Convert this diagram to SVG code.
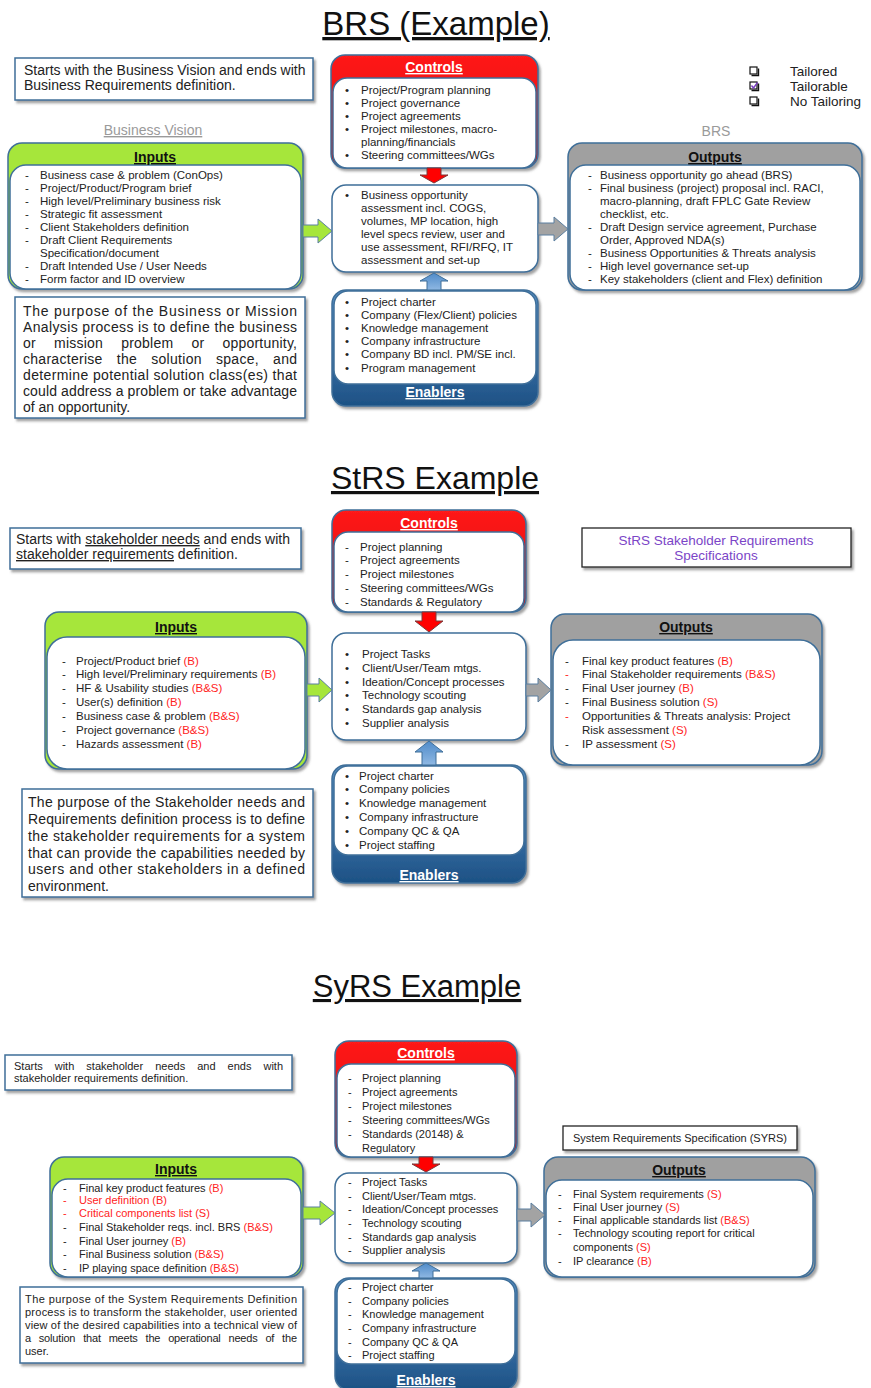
<svg xmlns="http://www.w3.org/2000/svg" width="871" height="1388" viewBox="0 0 871 1388">
<defs>
<filter id="sh" x="-10%" y="-10%" width="125%" height="130%">
<feDropShadow dx="2" dy="2.5" stdDeviation="1.3" flood-color="#555" flood-opacity="0.55"/>
</filter>
<linearGradient id="gRed" x1="0" y1="0" x2="0" y2="1"><stop offset="0" stop-color="#ff1a1a"/><stop offset="1" stop-color="#d80000"/></linearGradient>
<linearGradient id="gBlue" x1="0" y1="0" x2="0" y2="1"><stop offset="0" stop-color="#5b96d2"/><stop offset="1" stop-color="#1d5184"/></linearGradient>
<linearGradient id="gArrB" x1="0" y1="0" x2="0" y2="1"><stop offset="0" stop-color="#4f8bc9"/><stop offset="1" stop-color="#8fb8e3"/></linearGradient>
</defs>
<style>
text{font-family:"Liberation Sans",Arial,sans-serif;fill:#222}
.ttl{text-anchor:middle;text-decoration:underline;fill:#111}
.nt{font-size:14px}
.it{font-size:11.5px}
.s11{font-size:11px}
.hd{font-size:14px;font-weight:bold;text-anchor:middle;text-decoration:underline;fill:#111}
.hw{fill:#fff}
.r{fill:#ff2323}
.lbl{font-size:14px;fill:#9a9a9a;text-anchor:middle}
.box{fill:#fff;stroke:#3f6f99;stroke-width:1.5}
.nb{fill:#fff;stroke:#3f6f99;stroke-width:1.5;filter:url(#sh)}
.sb{fill:#fff;stroke:#222;stroke-width:1.3;filter:url(#sh)}
.grn{fill:#a6e63a;stroke:#3f6f99;stroke-width:1.5;filter:url(#sh)}
.gry{fill:#a0a0a0;stroke:#3f6f99;stroke-width:1.5;filter:url(#sh)}
.red{fill:url(#gRed);stroke:#3f6f99;stroke-width:1.5;filter:url(#sh)}
.blu{fill:url(#gBlue);stroke:#3f6f99;stroke-width:1.5;filter:url(#sh)}
.aG{fill:#a6e63a;stroke:#5b7fa0;stroke-width:1}
.aY{fill:#a3a3a3;stroke:#5b7fa0;stroke-width:1}
.aR{fill:#f00;stroke:#7a3a3a;stroke-width:1}
.aB{fill:url(#gArrB);stroke:#3f6f99;stroke-width:1}
.pt{fill:#7b45c7;font-size:13.5px;text-anchor:middle}
</style>

<!-- ===== BRS ===== -->
<text class="ttl" x="436" y="35" font-size="33">BRS (Example)</text>

<g id="legend">
<rect x="750" y="67" width="7" height="7" fill="#fff" stroke="#111" stroke-width="1.2"/>
<path d="M758.5,68.5 V75.5 H751.5" fill="none" stroke="#111" stroke-width="1.4"/>
<rect x="750" y="82" width="7" height="7" fill="#fff" stroke="#111" stroke-width="1.2"/>
<path d="M758.5,83.5 V90.5 H751.5" fill="none" stroke="#111" stroke-width="1.4"/>
<path d="M751.5,85.5 L753.5,88 L757.5,82.5" fill="none" stroke="#7a3fc0" stroke-width="1.4"/>
<rect x="750" y="97" width="7" height="7" fill="#fff" stroke="#111" stroke-width="1.2"/>
<path d="M758.5,98.5 V105.5 H751.5" fill="none" stroke="#111" stroke-width="1.4"/>
<text x="790" y="76" font-size="13.5">Tailored</text>
<text x="790" y="91" font-size="13.5">Tailorable</text>
<text x="790" y="106" font-size="13.5">No Tailoring</text>
</g>

<g id="brs-note">
<rect class="nb" x="15" y="58" width="298" height="42"/>
<text class="nt" x="24" y="75">Starts with the Business Vision and ends with</text>
<text class="nt" x="24" y="90">Business Requirements definition.</text>
</g>

<g id="brs-vision-label">
<text class="lbl" x="153" y="135" text-decoration="underline">Business Vision</text>
</g>
<g id="brs-label">
<text class="lbl" x="716" y="136">BRS</text>
</g>

<g id="brs-inputs">
<rect class="grn" x="8" y="143" width="295" height="146" rx="14"/>
<rect class="box" x="10" y="165" width="291" height="124" rx="16"/>
<text class="hd" x="155" y="162">Inputs</text>
<text class="it"><tspan x="25" y="179">-</tspan><tspan x="25" y="192">-</tspan><tspan x="25" y="205">-</tspan><tspan x="25" y="218">-</tspan><tspan x="25" y="231">-</tspan><tspan x="25" y="244">-</tspan><tspan x="25" y="270">-</tspan><tspan x="25" y="283">-</tspan></text>
<text class="it"><tspan x="40" y="179">Business case &amp; problem (ConOps)</tspan><tspan x="40" y="192">Project/Product/Program brief</tspan><tspan x="40" y="205">High level/Preliminary business risk</tspan><tspan x="40" y="218">Strategic fit assessment</tspan><tspan x="40" y="231">Client Stakeholders definition</tspan><tspan x="40" y="244">Draft Client Requirements</tspan><tspan x="40" y="257">Specification/document</tspan><tspan x="40" y="270">Draft Intended Use / User Needs</tspan><tspan x="40" y="283">Form factor and ID overview</tspan></text>
</g>

<g id="brs-purpose">
<rect class="nb" x="15" y="297" width="290" height="121"/>
<text class="nt" x="23" y="316" textLength="274" lengthAdjust="spacing">The purpose of the Business or Mission</text>
<text class="nt" x="23" y="332" textLength="274" lengthAdjust="spacing">Analysis process is to define the business</text>
<text class="nt" x="23" y="348" textLength="274" lengthAdjust="spacing" word-spacing="14">or mission problem or opportunity,</text>
<text class="nt" x="23" y="364" textLength="274" lengthAdjust="spacing" word-spacing="10">characterise the solution space, and</text>
<text class="nt" x="23" y="380" textLength="274" lengthAdjust="spacing">determine potential solution class(es) that</text>
<text class="nt" x="23" y="396" textLength="274" lengthAdjust="spacing">could address a problem or take advantage</text>
<text class="nt" x="23" y="412">of an opportunity.</text>
</g>

<g id="brs-controls">
<rect class="red" x="331" y="55" width="207" height="113" rx="14"/>
<rect class="box" x="333" y="78" width="203" height="90" rx="14"/>
<text class="hd hw" x="434" y="72">Controls</text>
<text class="it"><tspan x="345" y="94">•</tspan><tspan x="345" y="107">•</tspan><tspan x="345" y="120">•</tspan><tspan x="345" y="133">•</tspan><tspan x="345" y="159">•</tspan></text>
<text class="it"><tspan x="361" y="94">Project/Program planning</tspan><tspan x="361" y="107">Project governance</tspan><tspan x="361" y="120">Project agreements</tspan><tspan x="361" y="133">Project milestones, macro-</tspan><tspan x="361" y="146">planning/financials</tspan><tspan x="361" y="159">Steering committees/WGs</tspan></text>
</g>

<g id="brs-process">
<rect class="nb" x="332" y="185" width="206" height="87" rx="14"/>
<text class="it" x="345" y="199">•</text>
<text class="it"><tspan x="361" y="199">Business opportunity</tspan><tspan x="361" y="212">assessment incl. COGS,</tspan><tspan x="361" y="225">volumes, MP location, high</tspan><tspan x="361" y="238">level specs review, user and</tspan><tspan x="361" y="251">use assessment, RFI/RFQ, IT</tspan><tspan x="361" y="264">assessment and set-up</tspan></text>
</g>

<g id="brs-enablers">
<rect class="blu" x="332" y="290" width="206" height="116" rx="14"/>
<rect class="box" x="334" y="291" width="202" height="93" rx="14"/>
<text class="hd hw" x="435" y="397">Enablers</text>
<text class="it"><tspan x="345" y="306">•</tspan><tspan x="345" y="319">•</tspan><tspan x="345" y="332">•</tspan><tspan x="345" y="345">•</tspan><tspan x="345" y="358">•</tspan><tspan x="345" y="372">•</tspan></text>
<text class="it"><tspan x="361" y="306">Project charter</tspan><tspan x="361" y="319">Company (Flex/Client) policies</tspan><tspan x="361" y="332">Knowledge management</tspan><tspan x="361" y="345">Company infrastructure</tspan><tspan x="361" y="358">Company BD incl. PM/SE incl.</tspan><tspan x="361" y="372">Program management</tspan></text>
</g>

<g id="brs-outputs">
<rect class="gry" x="568" y="143" width="294" height="147" rx="14"/>
<rect class="box" x="570" y="165" width="290" height="125" rx="16"/>
<text class="hd" x="715" y="162">Outputs</text>
<text class="it"><tspan x="588" y="179">-</tspan><tspan x="588" y="192">-</tspan><tspan x="588" y="231">-</tspan><tspan x="588" y="257">-</tspan><tspan x="588" y="270">-</tspan><tspan x="588" y="283">-</tspan></text>
<text class="it"><tspan x="600" y="179">Business opportunity go ahead (BRS)</tspan><tspan x="600" y="192">Final business (project) proposal incl. RACI,</tspan><tspan x="600" y="205">macro-planning, draft FPLC Gate Review</tspan><tspan x="600" y="218">checklist, etc.</tspan><tspan x="600" y="231">Draft Design service agreement, Purchase</tspan><tspan x="600" y="244">Order, Approved NDA(s)</tspan><tspan x="600" y="257">Business Opportunities &amp; Threats analysis</tspan><tspan x="600" y="270">High level governance set-up</tspan><tspan x="600" y="283">Key stakeholders (client and Flex) definition</tspan></text>
</g>

<!-- ===== StRS ===== -->
<text class="ttl" x="435" y="489" font-size="32">StRS Example</text>

<g id="strs-note">
<rect class="nb" x="10" y="528" width="291" height="41"/>
<text class="nt" x="16" y="544">Starts with <tspan text-decoration="underline">stakeholder needs</tspan> and ends with</text>
<text class="nt" x="16" y="559"><tspan text-decoration="underline">stakeholder requirements</tspan> definition.</text>
</g>

<g id="strs-spec">
<rect class="sb" x="582" y="528" width="269" height="39"/>
<text class="pt" x="716" y="545">StRS Stakeholder Requirements</text>
<text class="pt" x="716" y="560">Specifications</text>
</g>

<g id="strs-inputs">
<rect class="grn" x="45" y="612" width="262" height="157" rx="14"/>
<rect class="box" x="47" y="637" width="258" height="132" rx="20"/>
<text class="hd" x="176" y="632">Inputs</text>
<text class="it"><tspan x="62" y="665">-</tspan><tspan x="62" y="678">-</tspan><tspan x="62" y="692">-</tspan><tspan x="62" y="706">-</tspan><tspan x="62" y="720">-</tspan><tspan x="62" y="734">-</tspan><tspan x="62" y="748">-</tspan></text>
<text class="it" x="76" y="665">Project/Product brief <tspan class="r">(B)</tspan></text>
<text class="it" x="76" y="678">High level/Preliminary requirements <tspan class="r">(B)</tspan></text>
<text class="it" x="76" y="692">HF &amp; Usability studies <tspan class="r">(B&amp;S)</tspan></text>
<text class="it" x="76" y="706">User(s) definition <tspan class="r">(B)</tspan></text>
<text class="it" x="76" y="720">Business case &amp; problem <tspan class="r">(B&amp;S)</tspan></text>
<text class="it" x="76" y="734">Project governance <tspan class="r">(B&amp;S)</tspan></text>
<text class="it" x="76" y="748">Hazards assessment <tspan class="r">(B)</tspan></text>
</g>

<g id="strs-purpose">
<rect class="nb" x="22" y="789" width="291" height="108"/>
<text class="nt" x="28" y="807" textLength="277" lengthAdjust="spacing">The purpose of the Stakeholder needs and</text>
<text class="nt" x="28" y="824" textLength="277" lengthAdjust="spacing">Requirements definition process is to define</text>
<text class="nt" x="28" y="841" textLength="277" lengthAdjust="spacing">the stakeholder requirements for a system</text>
<text class="nt" x="28" y="858" textLength="277" lengthAdjust="spacing">that can provide the capabilities needed by</text>
<text class="nt" x="28" y="874" textLength="277" lengthAdjust="spacing">users and other stakeholders in a defined</text>
<text class="nt" x="28" y="891">environment.</text>
</g>

<g id="strs-controls">
<rect class="red" x="332" y="510" width="194" height="102" rx="14"/>
<rect class="box" x="334" y="532" width="190" height="80" rx="14"/>
<text class="hd hw" x="429" y="528">Controls</text>
<text class="it"><tspan x="345" y="551">-</tspan><tspan x="345" y="564">-</tspan><tspan x="345" y="578">-</tspan><tspan x="345" y="592">-</tspan><tspan x="345" y="606">-</tspan></text>
<text class="it"><tspan x="360" y="551">Project planning</tspan><tspan x="360" y="564">Project agreements</tspan><tspan x="360" y="578">Project milestones</tspan><tspan x="360" y="592">Steering committees/WGs</tspan><tspan x="360" y="606">Standards &amp; Regulatory</tspan></text>
</g>

<g id="strs-process">
<rect class="nb" x="332" y="633" width="194" height="107" rx="14"/>
<text class="it"><tspan x="345" y="658">•</tspan><tspan x="345" y="672">•</tspan><tspan x="345" y="686">•</tspan><tspan x="345" y="699">•</tspan><tspan x="345" y="713">•</tspan><tspan x="345" y="727">•</tspan></text>
<text class="it"><tspan x="362" y="658">Project Tasks</tspan><tspan x="362" y="672">Client/User/Team mtgs.</tspan><tspan x="362" y="686">Ideation/Concept processes</tspan><tspan x="362" y="699">Technology scouting</tspan><tspan x="362" y="713">Standards gap analysis</tspan><tspan x="362" y="727">Supplier analysis</tspan></text>
</g>

<g id="strs-enablers">
<rect class="blu" x="332" y="765" width="194" height="118" rx="14"/>
<rect class="box" x="334" y="766" width="190" height="89" rx="14"/>
<text class="hd hw" x="429" y="880">Enablers</text>
<text class="it"><tspan x="345" y="780">•</tspan><tspan x="345" y="793">•</tspan><tspan x="345" y="807">•</tspan><tspan x="345" y="821">•</tspan><tspan x="345" y="835">•</tspan><tspan x="345" y="849">•</tspan></text>
<text class="it"><tspan x="359" y="780">Project charter</tspan><tspan x="359" y="793">Company policies</tspan><tspan x="359" y="807">Knowledge management</tspan><tspan x="359" y="821">Company infrastructure</tspan><tspan x="359" y="835">Company QC &amp; QA</tspan><tspan x="359" y="849">Project staffing</tspan></text>
</g>

<g id="strs-outputs">
<rect class="gry" x="551" y="614" width="271" height="151" rx="14"/>
<rect class="box" x="553" y="640" width="267" height="125" rx="20"/>
<text class="hd" x="686" y="632">Outputs</text>
<text class="it"><tspan x="565" y="665">-</tspan><tspan x="565" y="678" class="r">-</tspan><tspan x="565" y="692">-</tspan><tspan x="565" y="706">-</tspan><tspan x="565" y="720" class="r">-</tspan><tspan x="565" y="748">-</tspan></text>
<text class="it" x="582" y="665">Final key product features <tspan class="r">(B)</tspan></text>
<text class="it" x="582" y="678">Final Stakeholder requirements <tspan class="r">(B&amp;S)</tspan></text>
<text class="it" x="582" y="692">Final User journey <tspan class="r">(B)</tspan></text>
<text class="it" x="582" y="706">Final Business solution <tspan class="r">(S)</tspan></text>
<text class="it" x="582" y="720">Opportunities &amp; Threats analysis: Project</text>
<text class="it" x="582" y="734">Risk assessment <tspan class="r">(S)</tspan></text>
<text class="it" x="582" y="748">IP assessment <tspan class="r">(S)</tspan></text>
</g>

<!-- ===== SyRS ===== -->
<text class="ttl" x="417" y="997" font-size="31">SyRS Example</text>

<g id="syrs-note">
<rect class="nb" x="5" y="1055" width="287" height="35"/>
<text class="s11" x="14" y="1070" textLength="269" lengthAdjust="spacing" word-spacing="9">Starts with stakeholder needs and ends with</text>
<text class="s11" x="14" y="1082">stakeholder requirements definition.</text>
</g>

<g id="syrs-spec">
<rect class="sb" x="563" y="1126" width="234" height="24"/>
<text class="s11" x="680" y="1142" text-anchor="middle">System Requirements Specification (SYRS)</text>
</g>

<g id="syrs-inputs">
<rect class="grn" x="50" y="1157" width="253" height="120" rx="14"/>
<rect class="box" x="52" y="1179" width="249" height="98" rx="16"/>
<text class="hd" x="176" y="1174">Inputs</text>
<text class="s11"><tspan x="63" y="1192">-</tspan><tspan x="63" y="1204" class="r">-</tspan><tspan x="63" y="1217" class="r">-</tspan><tspan x="63" y="1231">-</tspan><tspan x="63" y="1245">-</tspan><tspan x="63" y="1258">-</tspan><tspan x="63" y="1272">-</tspan></text>
<text class="s11" x="79" y="1192">Final key product features <tspan class="r">(B)</tspan></text>
<text class="s11 r" x="79" y="1204">User definition (B)</text>
<text class="s11 r" x="79" y="1217">Critical components list (S)</text>
<text class="s11" x="79" y="1231">Final Stakeholder reqs. incl. BRS <tspan class="r">(B&amp;S)</tspan></text>
<text class="s11" x="79" y="1245">Final User journey <tspan class="r">(B)</tspan></text>
<text class="s11" x="79" y="1258">Final Business solution <tspan class="r">(B&amp;S)</tspan></text>
<text class="s11" x="79" y="1272">IP playing space definition <tspan class="r">(B&amp;S)</tspan></text>
</g>

<g id="syrs-purpose">
<rect class="nb" x="20" y="1287" width="283" height="76"/>
<text class="s11" x="25" y="1303" textLength="272" lengthAdjust="spacing">The purpose of the System Requirements Definition</text>
<text class="s11" x="25" y="1316" textLength="272" lengthAdjust="spacing">process is to transform the stakeholder, user oriented</text>
<text class="s11" x="25" y="1329" textLength="272" lengthAdjust="spacing">view of the desired capabilities into a technical view of</text>
<text class="s11" x="25" y="1342" textLength="272" lengthAdjust="spacing" word-spacing="5">a solution that meets the operational needs of the</text>
<text class="s11" x="25" y="1355">user.</text>
</g>

<g id="syrs-controls">
<rect class="red" x="335" y="1041" width="182" height="116" rx="14"/>
<rect class="box" x="337" y="1064" width="178" height="93" rx="14"/>
<text class="hd hw" x="426" y="1058">Controls</text>
<text class="s11"><tspan x="348" y="1082">-</tspan><tspan x="348" y="1096">-</tspan><tspan x="348" y="1110">-</tspan><tspan x="348" y="1124">-</tspan><tspan x="348" y="1138">-</tspan></text>
<text class="s11"><tspan x="362" y="1082">Project planning</tspan><tspan x="362" y="1096">Project agreements</tspan><tspan x="362" y="1110">Project milestones</tspan><tspan x="362" y="1124">Steering committees/WGs</tspan><tspan x="362" y="1138">Standards (20148) &amp;</tspan><tspan x="362" y="1152">Regulatory</tspan></text>
</g>

<g id="syrs-process">
<rect class="nb" x="335" y="1173" width="182" height="90" rx="14"/>
<text class="s11"><tspan x="348" y="1186">-</tspan><tspan x="348" y="1200">-</tspan><tspan x="348" y="1213">-</tspan><tspan x="348" y="1227">-</tspan><tspan x="348" y="1241">-</tspan><tspan x="348" y="1254">-</tspan></text>
<text class="s11"><tspan x="362" y="1186">Project Tasks</tspan><tspan x="362" y="1200">Client/User/Team mtgs.</tspan><tspan x="362" y="1213">Ideation/Concept processes</tspan><tspan x="362" y="1227">Technology scouting</tspan><tspan x="362" y="1241">Standards gap analysis</tspan><tspan x="362" y="1254">Supplier analysis</tspan></text>
</g>

<g id="syrs-enablers">
<rect class="blu" x="335" y="1278" width="182" height="112" rx="14"/>
<rect class="box" x="337" y="1279" width="178" height="85" rx="14"/>
<text class="hd hw" x="426" y="1385">Enablers</text>
<text class="s11"><tspan x="348" y="1291">-</tspan><tspan x="348" y="1305">-</tspan><tspan x="348" y="1318">-</tspan><tspan x="348" y="1332">-</tspan><tspan x="348" y="1346">-</tspan><tspan x="348" y="1359">-</tspan></text>
<text class="s11"><tspan x="362" y="1291">Project charter</tspan><tspan x="362" y="1305">Company policies</tspan><tspan x="362" y="1318">Knowledge management</tspan><tspan x="362" y="1332">Company infrastructure</tspan><tspan x="362" y="1346">Company QC &amp; QA</tspan><tspan x="362" y="1359">Project staffing</tspan></text>
</g>

<g id="syrs-outputs">
<rect class="gry" x="544" y="1157" width="271" height="120" rx="14"/>
<rect class="box" x="546" y="1180" width="267" height="97" rx="16"/>
<text class="hd" x="679" y="1175">Outputs</text>
<text class="s11"><tspan x="558" y="1198">-</tspan><tspan x="558" y="1211">-</tspan><tspan x="558" y="1224">-</tspan><tspan x="558" y="1237">-</tspan><tspan x="558" y="1265">-</tspan></text>
<text class="s11" x="573" y="1198">Final System requirements <tspan class="r">(S)</tspan></text>
<text class="s11" x="573" y="1211">Final User journey <tspan class="r">(S)</tspan></text>
<text class="s11" x="573" y="1224">Final applicable standards list <tspan class="r">(B&amp;S)</tspan></text>
<text class="s11" x="573" y="1237">Technology scouting report for critical</text>
<text class="s11" x="573" y="1251">components <tspan class="r">(S)</tspan></text>
<text class="s11" x="573" y="1265">IP clearance <tspan class="r">(B)</tspan></text>
</g>

<!-- ===== connectors ===== -->
<g id="connectors">
<path class="aG" d="M303,225 H318 V219 L332,231 L318,243 V237 H303 Z"/>
<path class="aY" d="M538,223 H554 V217 L568,229 L554,241 V235 H538 Z"/>
<path class="aR" d="M427,168 V175 H420 L434,183 L448,175 H441 V168 Z"/>
<path class="aB" d="M427,290 V281 H420 L434,273 L448,281 H441 V290 Z"/>

<path class="aG" d="M307,684 H319 V678 L332,690 L319,702 V696 H307 Z"/>
<path class="aY" d="M526,684 H538 V678 L551,690 L538,702 V696 H526 Z"/>
<path class="aR" d="M422,612 V621 H415 L429,632 L443,621 H436 V612 Z"/>
<path class="aB" d="M422,765 V752 H415 L429,741 L443,752 H436 V765 Z"/>

<path class="aG" d="M303,1207 H320 V1201 L335,1213 L320,1225 V1219 H303 Z"/>
<path class="aY" d="M517,1209 H531 V1203 L545,1215 L531,1227 V1221 H517 Z"/>
<path class="aR" d="M419,1157 V1164 H412 L426,1172 L440,1164 H433 V1157 Z"/>
<path class="aB" d="M419,1278 V1271 H412 L426,1263 L440,1271 H433 V1278 Z"/>
</g>
</svg>
